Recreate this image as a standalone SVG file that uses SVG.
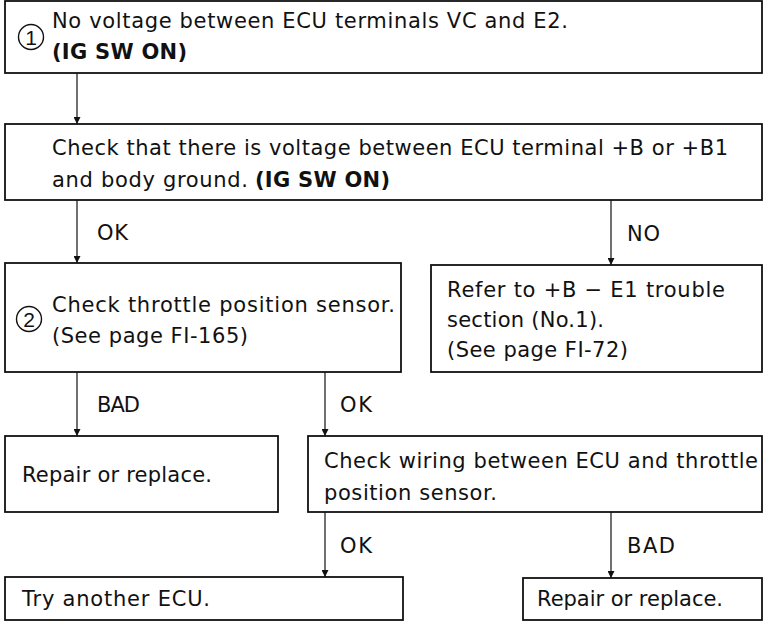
<svg xmlns="http://www.w3.org/2000/svg" width="765" height="622" viewBox="0 0 765 622">
<defs>
<style>
.box{fill:none;stroke:#111;stroke-width:1.8}
.t{font-family:"DejaVu Sans","Liberation Sans",Arial,sans-serif;font-size:21px;fill:#111}
.b{font-weight:bold}
.c{fill:none;stroke:#111;stroke-width:1.4}
.n{font-family:"Liberation Sans",Arial,sans-serif;font-size:21px;fill:#111;text-anchor:middle}
.ln{stroke:#111;stroke-width:1.2;fill:none;marker-end:url(#ah)}
</style>
<marker id="ah" viewBox="0 0 10 10" refX="10" refY="5" markerUnits="userSpaceOnUse" markerWidth="11" markerHeight="7" orient="auto">
<path d="M0,0 L10,5 L0,10 Z" fill="#111"/>
</marker>
</defs>
<rect width="765" height="622" fill="#fff"/>
<g id="n1">
<rect class="box" x="5" y="1" width="757" height="72"/>
<circle class="c" cx="31" cy="37" r="12.5"/>
<text class="n" x="31" y="44.5">1</text>
<text class="t" x="52" y="28" textLength="516" lengthAdjust="spacing">No voltage between ECU terminals VC and E2.</text>
<text class="t b" x="52" y="59" textLength="135" lengthAdjust="spacing">(IG SW ON)</text>
</g>
<g id="n2">
<rect class="box" x="5" y="124" width="757" height="76"/>
<text class="t" x="52" y="155" textLength="676" lengthAdjust="spacing">Check that there is voltage between ECU terminal +B or +B1</text>
<text class="t" x="52" y="187" textLength="196" lengthAdjust="spacing">and body ground.</text>
<text class="t b" x="255" y="187" textLength="135" lengthAdjust="spacing">(IG SW ON)</text>
</g>
<g id="n3">
<rect class="box" x="5" y="263" width="396" height="109"/>
<circle class="c" cx="29" cy="319" r="12.5"/>
<text class="n" x="29" y="326.5">2</text>
<text class="t" x="52" y="312" textLength="343" lengthAdjust="spacing">Check throttle position sensor.</text>
<text class="t" x="52" y="343" textLength="196" lengthAdjust="spacing">(See page FI-165)</text>
</g>
<g id="n4">
<rect class="box" x="431" y="265" width="331" height="107"/>
<text class="t" x="447" y="297" textLength="278" lengthAdjust="spacing">Refer to +B − E1 trouble</text>
<text class="t" x="447" y="327" textLength="157" lengthAdjust="spacing">section (No.1).</text>
<text class="t" x="447" y="357" textLength="181" lengthAdjust="spacing">(See page FI-72)</text>
</g>
<g id="n5">
<rect class="box" x="5" y="436" width="273" height="76"/>
<text class="t" x="22" y="482" textLength="190" lengthAdjust="spacing">Repair or replace.</text>
</g>
<g id="n6">
<rect class="box" x="308" y="436" width="454" height="76"/>
<text class="t" x="324" y="468" textLength="434" lengthAdjust="spacing">Check wiring between ECU and throttle</text>
<text class="t" x="324" y="500" textLength="173" lengthAdjust="spacing">position sensor.</text>
</g>
<g id="n7">
<rect class="box" x="5" y="577" width="398" height="43"/>
<text class="t" x="22" y="606" textLength="188" lengthAdjust="spacing">Try another ECU.</text>
</g>
<g id="n8">
<rect class="box" x="523" y="578" width="239" height="42"/>
<text class="t" x="537" y="606" textLength="186" lengthAdjust="spacing">Repair or replace.</text>
</g>
<g id="connectors">
<line class="ln" x1="77" y1="73" x2="77" y2="124"/>
<line class="ln" x1="77" y1="200" x2="77" y2="263"/>
<line class="ln" x1="611" y1="200" x2="611" y2="265"/>
<line class="ln" x1="77" y1="372" x2="77" y2="436"/>
<line class="ln" x1="325" y1="372" x2="325" y2="436"/>
<line class="ln" x1="325" y1="512" x2="325" y2="577"/>
<line class="ln" x1="611" y1="512" x2="611" y2="578"/>
<text class="t" x="97" y="240" textLength="31" lengthAdjust="spacing">OK</text>
<text class="t" x="627" y="241" textLength="33" lengthAdjust="spacing">NO</text>
<text class="t" x="97" y="412" textLength="43" lengthAdjust="spacing">BAD</text>
<text class="t" x="340" y="412" textLength="32" lengthAdjust="spacing">OK</text>
<text class="t" x="340" y="553" textLength="32" lengthAdjust="spacing">OK</text>
<text class="t" x="627" y="553" textLength="48" lengthAdjust="spacing">BAD</text>
</g>
</svg>
